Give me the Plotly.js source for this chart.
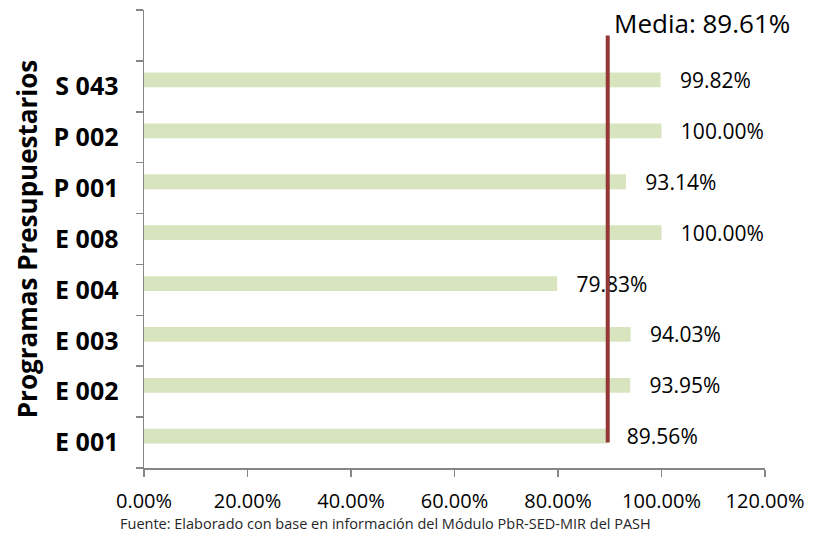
<!DOCTYPE html>
<html>
<head>
<meta charset="utf-8">
<script src="https://cdn.plot.ly/plotly-3.0.1.min.js"></script>
<style>
  body { margin: 0; background: #fff; }
  #chart { width: 817px; height: 533px; }
</style>
</head>
<body>
<div id="chart"></div>
<script>
// Programas presupuestarios, from bottom to top
let programas = ["E 001", "E 002", "E 003", "E 004", "E 008", "P 001", "P 002", "S 043"]
let cumplimiento = [0.8956, 0.9395, 0.9403, 0.7983, 1.0000, 0.9314, 1.0000, 0.9982]

// Media line
let media = 0.8961
let media_y = [0, 8]

let x_ticks = [0, 0.2, 0.4, 0.6, 0.8, 1.0, 1.2]

let font_main = "Open Sans, Lato, sans-serif"
let pos = programas.map((p, i) => i)
// one empty slot above the last program, like the original
let slot_edges = []
for (let i = 0; i <= programas.length + 1; i++) slot_edges.push(i - 0.5)

let bars = {
  type: "bar",
  orientation: "h",
  y: pos,
  x: cumplimiento,
  width: 0.29,
  offset: -0.02,
  marker: { color: "#d7e4bd" },
  text: cumplimiento.map(v => "\u00a0\u00a0\u00a0" + (v * 100).toFixed(2) + "%"),
  textposition: "outside",
  constraintext: "none",
  cliponaxis: false,
  textfont: { family: font_main, size: 21, color: "#000" },
  hoverinfo: "skip"
};

let media_line = {
  type: "scatter",
  mode: "lines",
  x: media_y.map(() => media),
  y: media_y,
  line: { color: "#953735", width: 4 },
  cliponaxis: false,
  hoverinfo: "skip"
};

let layout = {
  width: 817,
  height: 533,
  margin: { l: 144, r: 52, t: 10, b: 65, autoexpand: false },
  paper_bgcolor: "#ffffff",
  plot_bgcolor: "#ffffff",
  showlegend: false,
  font: { family: font_main, color: "#000" },
  xaxis: {
    range: [0, 1.2],
    tickmode: "array",
    tickvals: x_ticks,
    ticktext: x_ticks.map(v => (v * 100).toFixed(2) + "%"),
    ticks: "outside",
    ticklen: 7,
    tickwidth: 1.5,
    tickcolor: "#868686",
    showline: true,
    linecolor: "#868686",
    linewidth: 1.5,
    showgrid: false,
    zeroline: false,
    tickfont: { family: font_main, size: 20, color: "#000" },
    ticklabelstandoff: 7
  },
  yaxis: {
    range: [-0.5, programas.length + 0.5],
    tickmode: "array",
    tickvals: pos,
    ticktext: programas,
    ticks: "",
    showline: true,
    linecolor: "#868686",
    linewidth: 1.5,
    showgrid: false,
    zeroline: false,
    tickfont: { family: font_main, size: 25, color: "#000", weight: "bold" },
    ticklabelstandoff: 19,
    minor: {
      tickmode: "array",
      tickvals: slot_edges,
      ticks: "outside",
      ticklen: 7,
      tickwidth: 1.5,
      tickcolor: "#868686",
      showgrid: false
    },
    title: {
      text: "Programas Presupuestarios",
      font: { family: font_main, size: 26, color: "#000", weight: "bold" },
      standoff: 8
    }
  },
  annotations: [
    {
      x: media, y: media_y[1], xref: "x", yref: "y",
      text: "Media: " + (media * 100).toFixed(2) + "%",
      showarrow: false, xanchor: "left", yanchor: "middle",
      xshift: 4, yshift: 12,
      font: { family: font_main, size: 26, color: "#000" }
    },
    {
      x: 0, y: 0, xref: "paper", yref: "paper",
      xanchor: "left", yanchor: "middle",
      text: "Fuente: Elaborado con base en información del Módulo PbR-SED-MIR del PASH",
      showarrow: false,
      font: { family: font_main, size: 14.5, color: "#262626" }
    }
  ]
};
// footer position in pixels relative to the plot area
layout.annotations[1].x = (118 - layout.margin.l) / (817 - layout.margin.l - layout.margin.r);
layout.annotations[1].y = -(523 - (533 - layout.margin.b)) / (533 - layout.margin.t - layout.margin.b);

Plotly.newPlot("chart", [bars, media_line], layout, { displayModeBar: false, staticPlot: true });
</script>
</body>
</html>
